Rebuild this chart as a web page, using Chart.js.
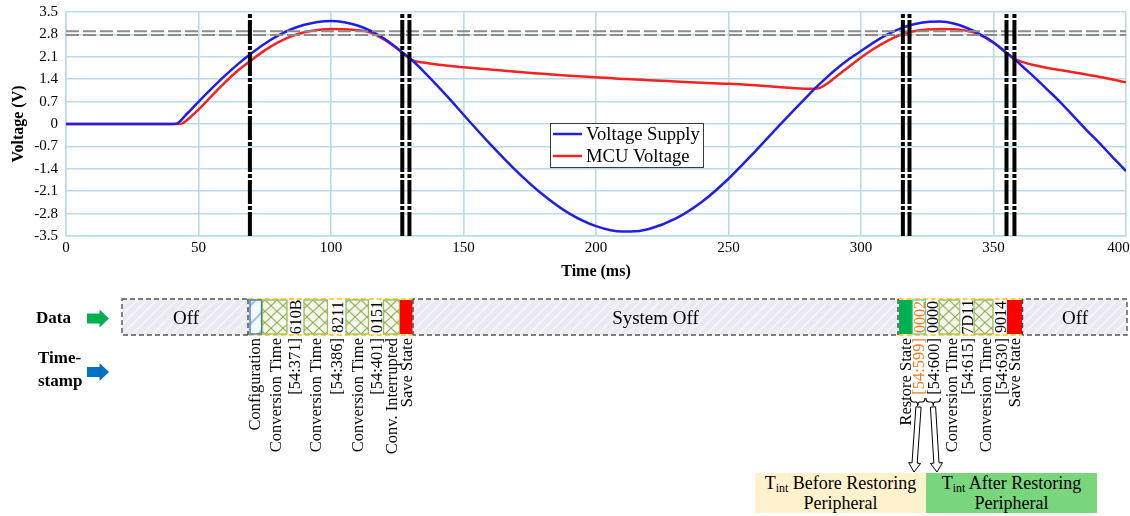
<!DOCTYPE html>
<html>
<head>
<meta charset="utf-8">
<script src="https://cdn.jsdelivr.net/npm/chart.js@4.4.0/dist/chart.umd.min.js"></script>
<style>
  html, body { margin: 0; padding: 0; background: #fff; }
  #wrap { position: relative; width: 1130px; height: 516px; overflow: hidden; }
  #voltChart { position: absolute; left: 0; top: 0; }
  #diagram { position: absolute; left: 0; top: 0; pointer-events: none; }
</style>
</head>
<body>
<div id="wrap">
  <canvas id="voltChart" width="1130" height="285"></canvas>
  <svg id="diagram" width="1130" height="516" xmlns="http://www.w3.org/2000/svg"></svg>
</div>
<script>
// values
const timeMs = [0, 10, 20, 30, 40, 42, 44, 45, 47, 50, 55, 60, 65, 70, 75, 80, 85, 90, 95, 100,
  105, 110, 115, 120, 125, 128, 131, 135, 140, 145, 150, 160, 170, 180, 190, 200, 210, 213,
  220, 230, 240, 250, 260, 270, 280, 284, 287, 290, 295, 300, 305, 310, 315, 320, 325, 330,
  335, 340, 345, 350, 355, 358, 362, 366, 370, 375, 380, 385, 390, 395, 400];
const supplyV = [0, 0, 0, 0, 0, 0.02, 0.17, 0.26, 0.43, 0.69, 1.11, 1.51, 1.88, 2.21, 2.51, 2.76, 2.96, 3.10, 3.19, 3.22,
  3.18, 3.08, 2.91, 2.67, 2.37, 2.17, 1.96, 1.64, 1.21, 0.76, 0.29, -0.62, -1.47, -2.21, -2.80, -3.19, -3.36, -3.36,
  -3.28, -2.96, -2.43, -1.71, -0.86, 0.03, 0.89, 1.22, 1.45, 1.67, 2.00, 2.28, 2.56, 2.80, 2.99, 3.12, 3.19, 3.20,
  3.14, 3.00, 2.80, 2.55, 2.22, 2.02, 1.72, 1.42, 1.10, 0.70, 0.26, -0.18, -0.60, -1.04, -1.47];
const mcuV = [0, 0, 0, 0, 0, 0, 0.02, 0.08, 0.22, 0.45, 0.88, 1.30, 1.68, 2.00, 2.30, 2.55, 2.74, 2.87, 2.94, 2.97,
  2.96, 2.93, 2.86, 2.64, 2.35, 2.15, 1.98, 1.92, 1.86, 1.81, 1.77, 1.70, 1.63, 1.57, 1.51, 1.46, 1.41, 1.40,
  1.37, 1.33, 1.29, 1.26, 1.21, 1.15, 1.10, 1.12, 1.25, 1.44, 1.76, 2.08, 2.36, 2.60, 2.79, 2.90, 2.95, 2.97,
  2.96, 2.91, 2.78, 2.54, 2.21, 2.03, 1.91, 1.83, 1.76, 1.69, 1.62, 1.55, 1.47, 1.39, 1.30];
const voltTicks = [3.5, 2.8, 2.1, 1.4, 0.7, 0, -0.7, -1.4, -2.1, -2.8, -3.5];
const markerMs = [69.4, 126.9, 129.6, 315.8, 318.3, 354.9, 357.9];
const thresholdV = [2.9, 2.78];

const serif = "'Liberation Serif', 'Times New Roman', serif";
const gridBlue = '#b8dce8';
Chart.defaults.font.family = serif;
Chart.defaults.color = '#000';

const pts = vals => timeMs.map((t, i) => ({ x: t, y: vals[i] }));

const datasets = [
  ...markerMs.map(t => ({
    data: [{ x: t, y: -3.5 }, { x: t, y: 3.5 }],
    borderColor: '#000', borderWidth: 4, borderDash: [24, 2, 4, 2],
    pointRadius: 0, order: 0
  })),
  ...thresholdV.map(v => ({
    data: [{ x: 0, y: v }, { x: 400, y: v }],
    borderColor: '#8c8c8c', borderWidth: 2, borderDash: [13, 4],
    pointRadius: 0, order: 1
  })),
  {
    label: 'Voltage Supply', data: pts(supplyV), borderColor: '#1f1fe6', borderWidth: 2.5,
    pointRadius: 0, cubicInterpolationMode: 'monotone', order: 2, inLegend: true
  },
  {
    label: 'MCU Voltage', data: pts(mcuV), borderColor: '#f52222', borderWidth: 2.5,
    pointRadius: 0, cubicInterpolationMode: 'monotone', order: 3, inLegend: true
  }
];

// legend box floating inside the plot
const floatingLegend = {
  id: 'floatingLegend',
  afterDatasetsDraw(chart) {
    const ctx = chart.ctx;
    const items = chart.data.datasets.filter(d => d.inLegend);
    const x = 550, y = 123, w = 153, h = 44;
    ctx.save();
    ctx.fillStyle = '#fff';
    ctx.fillRect(x, y, w, h);
    ctx.strokeStyle = '#3c3c3c';
    ctx.lineWidth = 1;
    ctx.strokeRect(x + 0.5, y + 0.5, w, h);
    ctx.font = '18.6px ' + serif;
    ctx.textBaseline = 'middle';
    items.forEach((d, i) => {
      const ly = y + 11 + i * 22;
      ctx.strokeStyle = d.borderColor;
      ctx.lineWidth = 2.5;
      ctx.beginPath();
      ctx.moveTo(x + 3, ly);
      ctx.lineTo(x + 32, ly);
      ctx.stroke();
      ctx.fillStyle = '#000';
      ctx.fillText(d.label, x + 36, ly + 1);
    });
    ctx.restore();
  }
};

new Chart(document.getElementById('voltChart'), {
  type: 'line',
  data: { datasets },
  options: {
    responsive: false,
    animation: false,
    layout: { padding: { left: 0, right: 4, top: 12, bottom: 0 } },
    plugins: { legend: { display: false }, tooltip: { enabled: false } },
    scales: {
      x: {
        type: 'linear', min: 0, max: 400,
        ticks: {
          stepSize: 50, font: { size: 15 }, padding: 3, maxRotation: 0,
          // last label sits flush with the right edge, as in the source figure
          callback: v => (v === 400 ? '400\u2002\u2002' : String(v))
        },
        grid: { color: gridBlue, lineWidth: 1.6, drawTicks: false },
        border: { color: gridBlue, width: 1.6 },
        title: { display: true, text: 'Time (ms)', font: { size: 16, weight: 'bold' }, padding: { top: 0, bottom: 4 } },
        afterFit(s) { s.height = 49; s.paddingLeft = 0; s.paddingRight = 0; }
      },
      y: {
        min: -3.5, max: 3.5,
        afterBuildTicks(s) { s.ticks = voltTicks.map(v => ({ value: v })); },
        ticks: { font: { size: 15 }, padding: 8, callback: v => (v === 0 ? '0' : v.toFixed(1)) },
        grid: { color: gridBlue, lineWidth: 1.6, drawTicks: false },
        border: { color: gridBlue, width: 1.6 },
        title: { display: true, text: 'Voltage (V)', font: { size: 16, weight: 'bold' }, padding: { top: 9, bottom: 0 } },
        afterFit(s) { s.width = 66; s.paddingTop = 0; s.paddingBottom = 0; }
      }
    }
  },
  plugins: [floatingLegend]
});

// ---- timing diagram under the plot ----
const leftSegs = [
  [250, 261.5, 'cfg'], [262.5, 287, 'cross'], [288, 302.5, 'val', '610B'], [304, 327.5, 'cross'],
  [328.5, 344.5, 'val', '8211'], [346, 368.5, 'cross'], [369.5, 382.5, 'val', '0151'],
  [383.5, 399.5, 'cross'], [400, 412.5, 'save']
];
const rightSegs = [
  [899, 912, 'restore'], [912.5, 925.5, 'peek', '0002'], [926, 938.5, 'val', '0000'], [939, 960, 'cross'],
  [960.5, 973, 'val', '7D11'], [974, 993, 'cross'], [994, 1006.5, 'val', '9014'], [1007, 1022, 'save']
];
const stampLabels = [
  [254, 'Configuration'], [275, 'Conversion Time'], [294.5, '[54:371]'], [315.5, 'Conversion Time'],
  [336.5, '[54:386]'], [357.5, 'Conversion Time'], [376.5, '[54:401]'], [391.5, 'Conv. Interrupted'],
  [406.5, 'Save State'],
  [905, 'Restore State'], [918.5, '[54:599]', '#ee7d22'], [933, '[54:600]'], [951.5, 'Conversion Time'],
  [967, '[54:615]'], [985, 'Conversion Time'], [1001, '[54:630]'], [1014, 'Save State']
];

function hollowArrow(x0, y0, x1, y1) {
  const len = Math.hypot(x1 - x0, y1 - y0);
  const ux = (x1 - x0) / len, uy = (y1 - y0) / len;
  const nx = -uy, ny = ux;
  const sw = 2.6, hw = 6, hl = 9;
  const bx = x1 - ux * hl, by = y1 - uy * hl;
  const p = [
    [x0 + nx * sw, y0 + ny * sw], [bx + nx * sw, by + ny * sw], [bx + nx * hw, by + ny * hw], [x1, y1],
    [bx - nx * hw, by - ny * hw], [bx - nx * sw, by - ny * sw], [x0 - nx * sw, y0 - ny * sw]
  ];
  return `<polygon points="${p.map(q => q.join(',')).join(' ')}" fill="#fff" stroke="#000" stroke-width="1"/>`;
}
function brace(x0, x1, y) {
  const m = (x0 + x1) / 2;
  return `<path d="M${x0},${y} Q${x0},${y + 4} ${x0 + 3},${y + 4} L${m - 2},${y + 4} Q${m},${y + 4} ${m},${y + 8} Q${m},${y + 4} ${m + 2},${y + 4} L${x1 - 3},${y + 4} Q${x1},${y + 4} ${x1},${y}" fill="none" stroke="#000" stroke-width="1.2"/>`;
}
function segRect(s) {
  const [a, b, kind, txt] = s;
  const y = 300, h = 34, w = b - a;
  let out = '';
  if (kind === 'cfg') out += `<rect x="${a}" y="${y}" width="${w}" height="${h}" fill="url(#cfgHatch)" stroke="#2e75b6" stroke-width="1.3"/>`;
  if (kind === 'cross') out += `<rect x="${a}" y="${y}" width="${w}" height="${h}" fill="url(#cross)" stroke="#9bbb59" stroke-width="1.3"/>`;
  if (kind === 'val') out += `<rect x="${a}" y="${y}" width="${w}" height="${h}" fill="#fff"/>`;
  if (kind === 'peek') out += `<rect x="${a}" y="${y}" width="${w}" height="${h}" fill="#fff" stroke="#63cf8f" stroke-width="1.3"/>`;
  if (kind === 'restore') out += `<rect x="${a}" y="${y}" width="${w}" height="${h}" fill="#00b050"/>`;
  if (kind === 'save') out += `<rect x="${a}" y="${y}" width="${w}" height="${h}" fill="#ff0000"/>`;
  if (txt) {
    const col = kind === 'peek' ? '#ee7d22' : '#000';
    out += `<text transform="translate(${(a + b) / 2 + 0.5},317) rotate(-90)" text-anchor="middle" dominant-baseline="central" font-size="16" fill="${col}">${txt}</text>`;
  }
  return out;
}

let g = `<defs>
  <pattern id="offHatch" width="7" height="7" patternUnits="userSpaceOnUse" patternTransform="rotate(45)">
    <rect width="7" height="7" fill="#ebe9f1"/><line x1="1" y1="0" x2="1" y2="7" stroke="#f5f4f9" stroke-width="2"/>
  </pattern>
  <pattern id="cross" width="12" height="11.3" patternUnits="userSpaceOnUse" x="1" y="300">
    <rect width="12" height="11.3" fill="#f6f9ee"/>
    <path d="M0,0 L12,11.3 M12,0 L0,11.3" stroke="#8aa84a" stroke-width="1.1"/>
  </pattern>
  <pattern id="cfgHatch" width="13" height="13" patternUnits="userSpaceOnUse" patternTransform="rotate(45)">
    <rect width="13" height="13" fill="#f8fbfe"/><line x1="3" y1="0" x2="3" y2="13" stroke="#9cc3e5" stroke-width="2.2"/>
  </pattern>
</defs>`;
g += `<g font-family="${serif}">`;
// outer frame
g += `<rect x="122" y="299" width="1005" height="36" fill="url(#offHatch)" stroke="#555" stroke-width="1.4" stroke-dasharray="5 3"/>`;
[[248.8, 412.7], [898.7, 1022.3]].forEach(([a, b]) => {
  g += `<rect x="${a}" y="297.5" width="${b - a}" height="39" fill="#fff"/>`;
  g += `<line x1="${a}" y1="299" x2="${b}" y2="299" stroke="#ffc000" stroke-width="1.4" stroke-dasharray="5 3"/>`;
  g += `<line x1="${a}" y1="335" x2="${b}" y2="335" stroke="#ffc000" stroke-width="1.4" stroke-dasharray="5 3"/>`;
});
leftSegs.concat(rightSegs).forEach(s => { g += segRect(s); });
[248, 413, 898, 1022.5].forEach(x => {
  g += `<line x1="${x}" y1="299" x2="${x}" y2="335" stroke="#444" stroke-width="1.4" stroke-dasharray="5 3"/>`;
});
g += `<text x="186" y="324" text-anchor="middle" font-size="19">Off</text>`;
g += `<text x="655.5" y="324" text-anchor="middle" font-size="19">System Off</text>`;
g += `<text x="1075" y="324" text-anchor="middle" font-size="19">Off</text>`;

// row titles with block arrows
g += `<text x="36" y="323" font-size="17" font-weight="bold">Data</text>`;
g += `<text x="38" y="363" font-size="17" font-weight="bold">Time-</text>`;
g += `<text x="38" y="386" font-size="17" font-weight="bold">stamp</text>`;
g += `<polygon points="87,313.5 99.5,313.5 99.5,309.5 109,318.5 99.5,327.5 99.5,323.5 87,323.5" fill="#00b050"/>`;
g += `<polygon points="87,367 99.5,367 99.5,363 109,372 99.5,381 99.5,377 87,377" fill="#0070c0"/>`;

// rotated stamp labels
stampLabels.forEach(([x, t, col]) => {
  g += `<text transform="translate(${x},338) rotate(-90)" text-anchor="end" dominant-baseline="central" font-size="16.5" fill="${col || '#000'}">${t}</text>`;
});

// braces and arrows to the interval boxes
g += brace(910.5, 925, 398);
g += brace(926, 940.5, 398);
g += hollowArrow(918.5, 407, 914, 472);
g += hollowArrow(933, 407, 937, 472);

g += `<rect x="755" y="473" width="171" height="40" fill="#fff2cc"/>`;
g += `<rect x="926" y="473" width="171" height="40" fill="#7ad67d"/>`;
g += `<text x="840.5" y="489" text-anchor="middle" font-size="18">T<tspan font-size="12" dy="3">int</tspan><tspan dy="-3"> Before Restoring</tspan></text>`;
g += `<text x="840.5" y="509" text-anchor="middle" font-size="18">Peripheral</text>`;
g += `<text x="1011.5" y="489" text-anchor="middle" font-size="18">T<tspan font-size="12" dy="3">int</tspan><tspan dy="-3"> After Restoring</tspan></text>`;
g += `<text x="1011.5" y="509" text-anchor="middle" font-size="18">Peripheral</text>`;
g += `</g>`;
document.getElementById('diagram').innerHTML = g;
</script>
</body>
</html>
